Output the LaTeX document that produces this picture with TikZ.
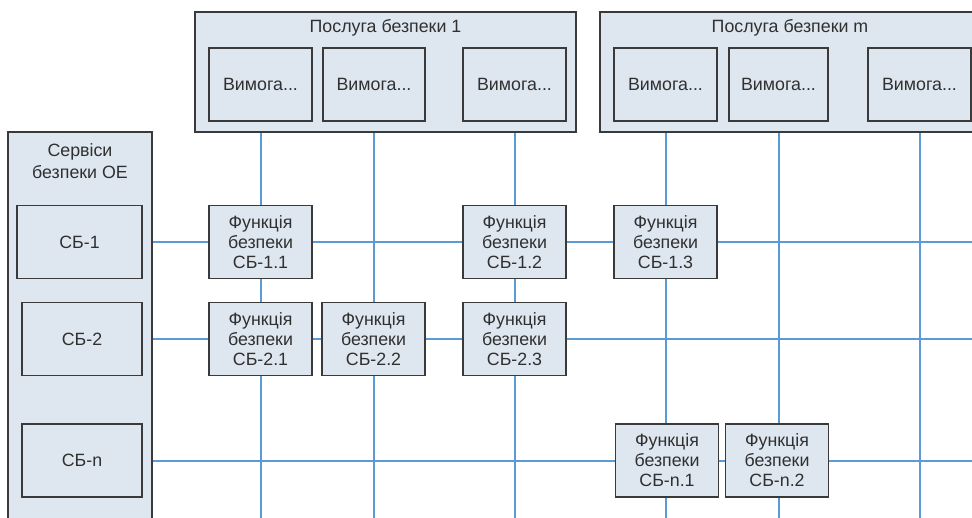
\documentclass[tikz,border=0pt]{standalone}
\usepackage{fontspec}
\setmainfont{Liberation Sans}
\usetikzlibrary{backgrounds}
\definecolor{boxfill}{HTML}{DEE7F0}
\definecolor{boxline}{HTML}{3A3A3A}
\definecolor{linkblue}{HTML}{5B9BD5}
\definecolor{txt}{HTML}{303030}
\tikzset{
  outer/.style={draw=boxline, line width=1.6pt, fill=boxfill, inner sep=0pt},
  inbox/.style={draw=boxline, line width=1.6pt, fill=boxfill, inner sep=0pt, text=txt,
    minimum height=73pt, align=center, font=\fontsize{17.8}{20}\selectfont},
  link/.style={draw=linkblue, line width=2pt},
  ttl/.style={font=\fontsize{17.8}{21.5}\selectfont, text=txt, align=center, inner sep=0pt}
}
\begin{document}
\begin{tikzpicture}[x=1pt,y=-1pt]
\useasboundingbox (0,0) rectangle (972,517);
\clip (0,0) rectangle (972,517);
% outer containers
\node[outer, minimum width=381pt, minimum height=120pt] (s1) at (385.5,72) {};
\node[outer, minimum width=380pt, minimum height=120pt] (sm) at (790,72) {};
\node[outer, minimum width=144pt, minimum height=398pt] (oe) at (80,331) {};
\node[ttl] (s1t) at (385.5,28) {Послуга безпеки 1};
\node[ttl] (smt) at (790,28) {Послуга безпеки m};
\node[ttl] (oet) at (80,161) {Сервіси\\безпеки ОЕ};
% requirements
\node[inbox, minimum width=103pt] (v1) at (260.5,84.5) {Вимога...};
\node[inbox, minimum width=102pt] (v2) at (374,84.5) {Вимога...};
\node[inbox, minimum width=103pt] (v3) at (514.5,84.5) {Вимога...};
\node[inbox, minimum width=103pt] (v4) at (665.5,84.5) {Вимога...};
\node[inbox, minimum width=99pt] (v5) at (778.5,84.5) {Вимога...};
\node[inbox, minimum width=103pt] (v6) at (919.5,84.5) {Вимога...};
% services
\node[inbox, minimum width=125pt] (sb1) at (79.5,242) {СБ-1};
\node[inbox, minimum width=120pt] (sb2) at (82,339) {СБ-2};
\node[inbox, minimum width=120pt] (sbn) at (82,460.5) {СБ-n};
% functions
\node[inbox, minimum width=103pt] (f11) at (260.5,242) {Функція\\безпеки\\СБ-1.1};
\node[inbox, minimum width=103pt] (f12) at (514.5,242) {Функція\\безпеки\\СБ-1.2};
\node[inbox, minimum width=103pt] (f13) at (665.5,242) {Функція\\безпеки\\СБ-1.3};
\node[inbox, minimum width=103pt] (f21) at (260.5,339) {Функція\\безпеки\\СБ-2.1};
\node[inbox, minimum width=103pt] (f22) at (373.5,339) {Функція\\безпеки\\СБ-2.2};
\node[inbox, minimum width=103pt] (f23) at (514.5,339) {Функція\\безпеки\\СБ-2.3};
\node[inbox, minimum width=103pt] (fn1) at (667,460.5) {Функція\\безпеки\\СБ-n.1};
\node[inbox, minimum width=103pt] (fn2) at (777,460.5) {Функція\\безпеки\\СБ-n.2};
% free ends
\coordinate (bot) at (0,525);
\coordinate (rgt) at (980,0);
\begin{scope}[on background layer]
  \foreach \v in {v1,v2,v3,v4,v5,v6} {\draw[link] (\v.south) -- (\v.south |- bot);}
  \draw[link] (sb1.east) -- (sb1.east -| rgt);
  \draw[link] (sb2.east) -- (sb2.east -| rgt);
  \draw[link] (sbn.east) -- (sbn.east -| rgt);
\end{scope}
\end{tikzpicture}
\end{document}
